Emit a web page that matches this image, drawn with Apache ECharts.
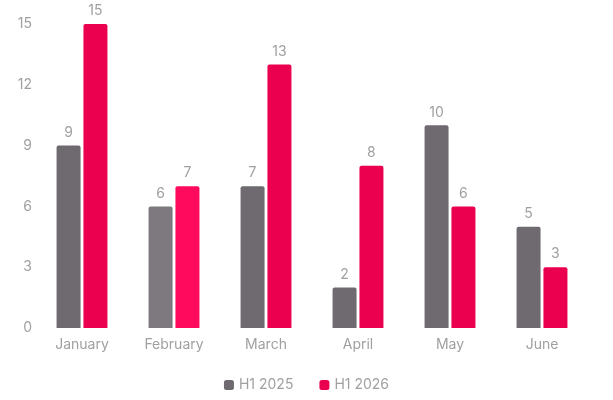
<!DOCTYPE html>
<html>
<head>
<meta charset="utf-8">
<script src="https://cdn.jsdelivr.net/npm/echarts@6/dist/echarts.min.js"></script>
<style>
  html, body { margin: 0; padding: 0; background: #fff; }
  #chart { width: 613px; height: 400px; }
</style>
</head>
<body>
<div id="chart"></div>
<script>
const months = ['January', 'February', 'March', 'April', 'May', 'June'];
const h1_2025 = [9, 6, 7, 2, 10, 5];
const h1_2026 = [15, 7, 13, 8, 6, 3];

// February is shown in its hovered (lighter) state in the reference
const hoverIndex = 1;

const chart = echarts.init(document.getElementById('chart'));

function colorFor(base, light) {
    return function (params) {
        return params.dataIndex === hoverIndex ? light : base;
    };
}

const labelStyle = {
    show: true,
    position: 'top',
    distance: 6,
    color: '#a0a0a0',
    fontSize: 14,
    fontFamily: 'Inter',
};

let option = {
    textStyle: { fontFamily: 'Inter' },
    grid: { left: 36, right: 25, top: 24, bottom: 72 },
    legend: {
        bottom: 3,
        itemWidth: 10,
        itemHeight: 10,
        itemGap: 26,
        icon: 'roundRect',
        textStyle: { color: '#a0a0a0', fontSize: 14, fontFamily: 'Inter' },
    },
    xAxis: {
        type: 'category',
        data: months,
        axisLine: { show: false },
        axisTick: { show: false },
        axisLabel: { color: '#a0a0a0', fontSize: 14, margin: 10 },
    },
    yAxis: {
        type: 'value',
        min: 0,
        max: 15,
        interval: 3,
        splitLine: { show: false },
        axisLabel: { color: '#a0a0a0', fontSize: 14, margin: 4 },
    },
    series: [
        {
            name: 'H1 2025',
            type: 'bar',
            data: h1_2025,
            barWidth: 24,
            barGap: '12%',
            color: '#6e6a70',
            itemStyle: { color: colorFor('#6e6a70', '#7d797f'), borderRadius: [2, 2, 0, 0] },
            label: labelStyle,
        },
        {
            name: 'H1 2026',
            type: 'bar',
            data: h1_2026,
            barWidth: 24,
            color: '#eb0050',
            itemStyle: { color: colorFor('#eb0050', '#ff0a5c'), borderRadius: [2, 2, 0, 0] },
            label: labelStyle,
        },
    ],
};

chart.setOption(option);
</script>
</body>
</html>
